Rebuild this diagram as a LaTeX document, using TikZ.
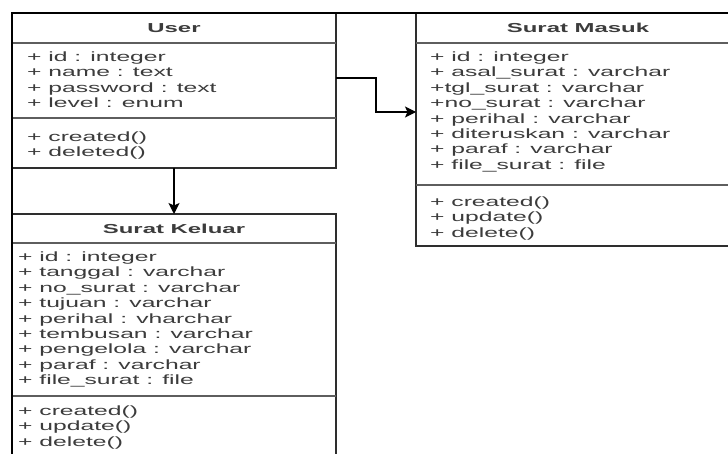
\documentclass[tikz,border=0pt]{standalone}
\usepackage{fontspec}
\setmainfont{Liberation Sans}[FakeStretch=1.84]
\usetikzlibrary{arrows.meta}
\definecolor{txt}{HTML}{3C3C3C}
\definecolor{edge}{HTML}{2E2E2E}
\definecolor{sep}{HTML}{5E5E5E}
\begin{document}
\begin{tikzpicture}[x=1pt,y=-1pt,
  classbox/.style={draw=edge, line width=1.2pt, anchor=north west, inner sep=0pt, outer sep=0pt},
  sepline/.style={draw=sep, line width=1.1pt},
  attr/.style={anchor=base west, inner sep=0pt, text=txt, font=\fontsize{13.4}{15.4}\selectfont},
  title/.style={anchor=base, inner sep=0pt, text=txt, font=\fontsize{13}{15.4}\selectfont\bfseries},
  conn/.style={draw=black, line width=1.3pt},
  arrowtip/.style={-{Stealth[length=11pt,width=11pt,inset=2.5pt]}}]
\useasboundingbox (0,0) rectangle (728,454);
\clip (0,0) rectangle (728,454);
\fill[white] (0,0) rectangle (728,454);

% class boxes
\node[classbox, minimum width=324pt, minimum height=155pt] (user) at (12,13) {};
\node[classbox, minimum width=324pt, minimum height=233pt] (masuk) at (416,13) {};
\node[classbox, minimum width=324pt, minimum height=260pt] (keluar) at (12,214) {};

% compartment separators
\draw[sepline] (user.west |- 0,43) -- (user.east |- 0,43);
\draw[sepline] (user.west |- 0,118) -- (user.east |- 0,118);
\draw[sepline] (masuk.west |- 0,43) -- (masuk.east |- 0,43);
\draw[sepline] (masuk.west |- 0,185) -- (masuk.east |- 0,185);
\draw[sepline] (keluar.west |- 0,243) -- (keluar.east |- 0,243);
\draw[sepline] (keluar.west |- 0,396) -- (keluar.east |- 0,396);

% outer frame
\draw[black, line width=2.2pt] (728,13) -- (12,13) -- (12,454);

% User
\node[title] (userT) at (174,32.6) {User};
\foreach \t [count=\i from 0] in {{+ id : integer},{+ name : text},{+ password : text},{+ level : enum}}
  \node[attr] (userA\i) at (27,61.5+15.4*\i) {\t};
\foreach \t [count=\i from 0] in {{+ created()},{+ deleted()}}
  \node[attr] (userM\i) at (27,141.5+15.4*\i) {\t};

% Surat Masuk
\node[title] (masukT) at (578,32.6) {Surat Masuk};
\foreach \t [count=\i from 0] in {{+ id : integer},{+ asal\_surat : varchar},{+tgl\_surat : varchar},{+no\_surat : varchar},{+ perihal : varchar},{+ diteruskan : varchar},{+ paraf : varchar},{+ file\_surat : file}}
  \node[attr] (masukA\i) at (430,61.5+15.4*\i) {\t};
\foreach \t [count=\i from 0] in {{+ created()},{+ update()},{+ delete()}}
  \node[attr] (masukM\i) at (430,206.5+15.4*\i) {\t};

% Surat Keluar
\node[title] (keluarT) at (174,233.1) {Surat Keluar};
\foreach \t [count=\i from 0] in {{+ id : integer},{+ tanggal : varchar},{+ no\_surat : varchar},{+ tujuan : varchar},{+ perihal : vharchar},{+ tembusan : varchar},{+ pengelola : varchar},{+ paraf : varchar},{+ file\_surat : file}}
  \node[attr] (keluarA\i) at (18,261.5+15.4*\i) {\t};
\foreach \t [count=\i from 0] in {{+ created()},{+ update()},{+ delete()}}
  \node[attr] (keluarM\i) at (18,415.5+15.4*\i) {\t};

% associations
\coordinate (bendA) at (376,78);
\coordinate (bendB) at (376,112);
\draw[conn, arrowtip] (user.east |- bendA) -- (bendA) -- (bendB) -- (masuk.west |- bendB);
\draw[conn, arrowtip] (user.south) -- (keluar.north);
\end{tikzpicture}
\end{document}
